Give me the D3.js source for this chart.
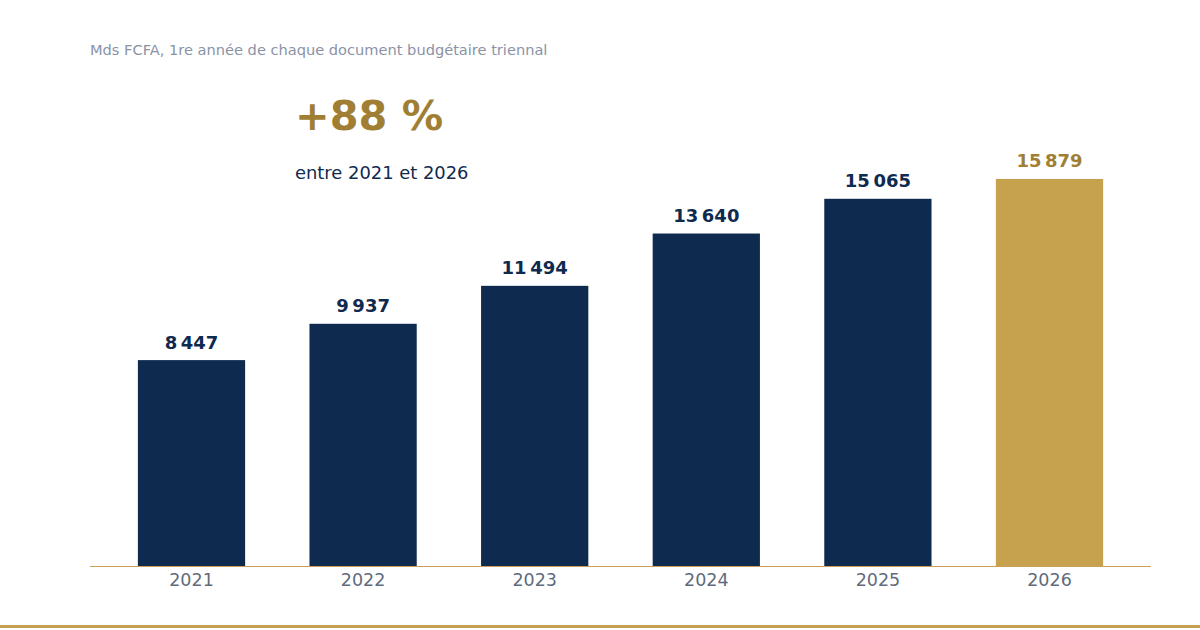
<!DOCTYPE html>
<html><head><meta charset="utf-8">
<script src="https://cdn.jsdelivr.net/npm/d3@7"></script>
<style>body{margin:0;background:#fff}svg{display:block;font-family:"DejaVu Sans",sans-serif}</style>
</head><body><svg id="c" width="1200" height="630"></svg>
<script>
const years = ["2021","2022","2023","2024","2025","2026"];
const values = [8447, 9937, 11494, 13640, 15065, 15879];
const highlight = ["2026"];
const subtitle = "Mds FCFA, 1re année de chaque document budgétaire triennal";
const bigText = "+88 %";
const bigSub = "entre 2021 et 2026";

const svg = d3.select("#c");
const x = d3.scaleBand().domain(years).range([90,1151]).paddingInner(0.375).paddingOuter(0.279);
const y = d3.scaleLinear().domain([0,16000]).range([566,176]);
const fmt = v => d3.format(",")(v).replace(/,/g,"\u202f");
const navy="#0f2a4f", gold="#c6a24e", goldText="#a07f35";

svg.append("text").attr("x",90).attr("y",55).attr("font-size",14.6).attr("fill","#8a93a6").text(subtitle);
svg.append("text").attr("x",295).attr("y",130).attr("font-size",41.4).attr("font-weight","bold").attr("fill",goldText).text(bigText);
svg.append("text").attr("x",295).attr("y",179).attr("font-size",17.9).attr("fill",navy).text(bigSub);

svg.selectAll("rect.bar").data(years).join("rect").attr("class","bar")
  .attr("x",d=>x(d)).attr("width",x.bandwidth())
  .attr("y",(d,i)=>y(values[i])).attr("height",(d,i)=>y(0)-y(values[i]))
  .attr("fill",d=>highlight.includes(d)?gold:navy);

svg.selectAll("text.val").data(years).join("text").attr("class","val")
  .attr("x",d=>x(d)+x.bandwidth()/2).attr("y",(d,i)=>y(values[i])-11.5)
  .attr("text-anchor","middle").attr("font-size",18).attr("font-weight","bold")
  .attr("fill",d=>highlight.includes(d)?goldText:navy)
  .text((d,i)=>fmt(values[i]));

const ax = svg.append("g").attr("transform","translate(0,566)").call(d3.axisBottom(x).tickSize(0).tickPadding(8));
ax.select(".domain").attr("stroke","#c9a055").attr("stroke-width",1).attr("d","M90,0.5H1151");
ax.selectAll("text").attr("font-size",17.5).attr("fill","#5f6b7d").attr("font-family","DejaVu Sans, sans-serif");

svg.append("rect").attr("x",0).attr("y",625).attr("width",1200).attr("height",3).attr("fill","#c4a050");
</script></body></html>
